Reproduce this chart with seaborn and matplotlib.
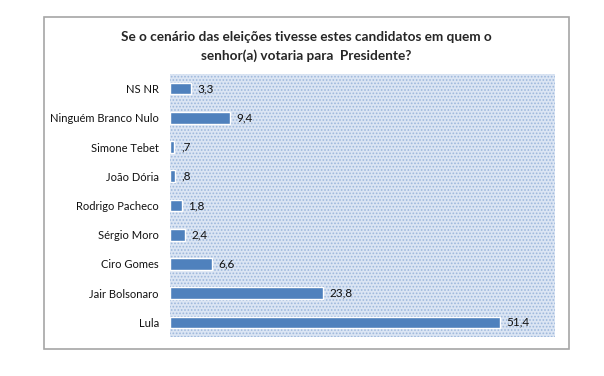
import matplotlib
matplotlib.use('Agg')
import matplotlib.pyplot as plt
import matplotlib.patches as mpatches
import pandas as pd
import seaborn as sns

candidatos = ['NS NR', 'Ninguém Branco Nulo', 'Simone Tebet', 'João Dória',
              'Rodrigo Pacheco', 'Sérgio Moro', 'Ciro Gomes', 'Jair Bolsonaro', 'Lula']
votos = [3.3, 9.4, 0.7, 0.8, 1.8, 2.4, 6.6, 23.8, 51.4]

df = pd.DataFrame({'candidato': candidatos, 'pct': votos})

sns.set_style('white')
plt.rcParams['font.family'] = ['Lato', 'DejaVu Sans']
plt.rcParams['hatch.color'] = '#9db8dc'
plt.rcParams['hatch.linewidth'] = 0.8

W, H = 604, 376
fig = plt.figure(figsize=(6.04, 3.76), dpi=100)
ax = fig.add_axes([170 / W, 1 - 337 / H, (555 - 170) / W, (337 - 74) / H])

# outer chart frame
fig.patches.append(mpatches.Rectangle((44 / W, 1 - 349 / H), (569 - 44) / W, (349 - 17) / H,
                                      transform=fig.transFigure, fill=False,
                                      edgecolor='#a6a6a6', linewidth=1.2))

# dotted plot-area background
ax.set_facecolor('#dbe5f3')
ax.add_patch(mpatches.Rectangle((0, 0), 1, 1, transform=ax.transAxes, facecolor='none',
                                edgecolor='#9db8dc', hatch='.....', linewidth=0, zorder=0))

sns.barplot(data=df, y='candidato', x='pct', orient='h', color='#4f81bd',
            saturation=1, width=0.4, ax=ax, zorder=2)

for i, v in enumerate(votos):
    lbl = f'{v:.1f}'.replace('.', ',')
    if lbl.startswith('0'):
        lbl = lbl[1:]
    ax.text(v + 1.0, i, lbl, va='center', ha='left', fontsize=8.5, color='#111111')

ax.set_xlim(0, 60)
ax.set_xticks([])
ax.set_xlabel('')
ax.set_ylabel('')
ax.tick_params(axis='y', length=0, pad=8, labelsize=8, labelcolor='#111111')
for s in ax.spines.values():
    s.set_visible(False)

fig.text(306 / W, 1 - 37 / H, 'Se o cenário das eleições tivesse estes candidatos em quem o',
         ha='center', va='center', fontsize=9.8, fontweight='bold')
fig.text(306 / W, 1 - 56 / H, 'senhor(a) votaria para  Presidente?',
         ha='center', va='center', fontsize=9.8, fontweight='bold')

fig.savefig('out.png', dpi=100)
